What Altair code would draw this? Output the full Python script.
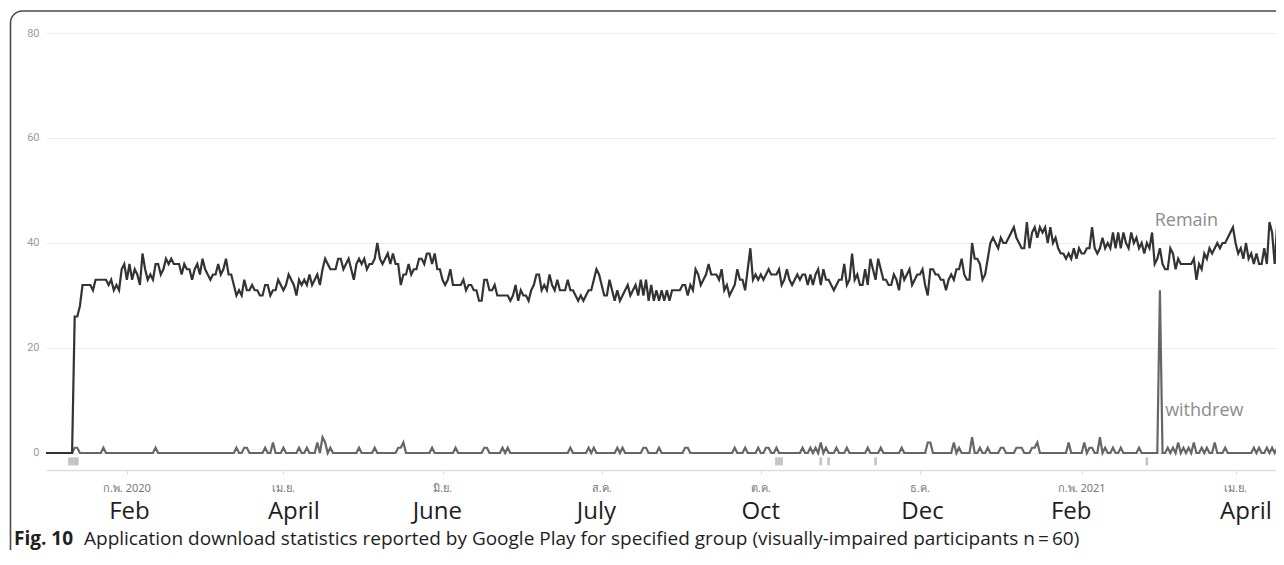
import altair as alt
import pandas as pd

# ---------------- data ----------------
# "Remain" daily values, from 2020-01-01 onward
remain_jan_apr_2020 = [
    0, 0, 0, 0, 0, 0, 0, 0, 0, 0, 0,
    26, 26, 28, 32, 32, 32, 32, 31, 33, 33, 33, 33, 33, 32, 33, 31, 32, 31,
    35, 36, 33, 36, 33, 35, 34, 32, 38, 35, 33, 34, 33, 36, 36, 34, 35, 37, 36, 37,
    36, 36, 36, 34, 36, 35, 35, 33, 35, 36, 34, 37, 35, 34, 33, 34, 34, 36, 34, 35,
    37, 34, 34, 32, 30, 31, 30, 33, 31, 31, 32, 31, 31, 30, 30, 32, 32, 30, 31, 31,
    33, 32, 31, 32, 34, 33, 32, 30, 33, 32, 33, 32, 34, 32, 33, 34, 32, 35, 37, 36,
    35, 35, 35, 37, 37, 35, 36, 37, 35, 33, 36, 37,
]
remain_may_aug_2020 = [
    36, 37, 35, 36, 36, 37, 40,
    37, 36, 37, 38, 36, 38, 36, 36, 32, 34,
    34, 36, 34, 35, 35, 37, 37, 36, 38, 38,
    36, 38, 35, 35, 33, 32, 33, 35, 32, 32, 32,
    32, 33, 31, 32, 32, 31, 31, 29, 29, 33,
    33, 31, 31, 32, 30, 30, 30, 30, 30, 29, 30,
    32, 29, 31, 30, 30, 29, 31, 32, 34, 34,
    31, 32, 31, 34, 32, 31, 33, 31, 31, 31, 33,
    31, 31, 30, 29, 30, 29, 30, 31, 31, 33,
    35, 34, 32, 30, 30, 33, 31, 29, 31, 29, 30,
    31, 32, 30, 31, 32, 30, 33, 30, 33, 29,
    32, 29, 31, 29, 31, 29, 31, 29,
]
remain_aug_dec_2020 = [
    31, 31, 31, 31, 32, 32, 30,
    32, 31, 35, 34, 32, 33, 34, 36, 34, 34,
    34, 33, 35, 31, 32, 30, 31, 32, 35, 33,
    33, 31, 35, 39, 33, 34, 33, 34, 33, 34,
    35, 34, 34, 34, 35, 32, 33, 35, 33, 32,
    33, 34, 33, 34, 34, 32, 34, 32,
    34, 35, 32, 35, 33, 33, 32, 31, 32, 33,
    33, 36, 32, 33, 38, 33, 34, 32, 32, 35,
    32, 37, 35, 33, 37, 35, 33, 33, 32, 32,
    34, 33, 31, 35, 33, 34, 35, 32, 33, 34,
    34, 35, 32, 30, 35, 35, 34, 34, 33, 33,
    31, 33, 34, 33, 35, 35, 37, 34, 33,
]
remain_dec_2020_apr_2021 = [
    33, 40, 37, 37, 36, 33, 34, 37, 40, 41,
    40, 39, 41, 40, 40, 41, 42, 43, 41, 40,
    39, 39, 44, 39, 42, 43, 41, 43, 42, 43,
    40, 43, 40, 41, 39, 38, 38, 37, 38, 37,
    39, 37, 39, 38, 38, 39, 39, 43, 39, 38,
    39, 41, 39, 40, 39, 42, 39, 42, 39, 42,
    40, 39, 42, 40, 41, 39, 40, 38, 40, 39,
    42, 36, 37, 39, 36, 35, 35, 39, 38, 35,
    37, 36, 36, 36, 36, 36, 37, 33, 36, 35,
    38, 37, 39, 38, 39, 40, 39, 40, 40,
    41, 42, 43, 40, 38, 39, 37, 40, 37, 38,
    36, 38, 36, 36, 39, 36, 44, 42, 36, 44,
    42,
]
remain = remain_jan_apr_2020 + remain_may_aug_2020 + remain_aug_dec_2020 + remain_dec_2020_apr_2021

# "withdrew": days (counted from 2020-01-01) with a non-zero value; every other day reads 0
withdrew_days = [11, 12, 22, 42, 73, 76, 77, 84, 87, 91, 97, 100, 104, 106, 107, 109, 120, 126,
                 135, 136, 137, 148, 157, 168, 169, 175, 177, 201, 208, 210, 219, 221, 229, 230,
                 235, 245, 246, 264, 268, 273, 276, 277, 280, 290, 293, 295, 297, 299, 303, 307,
                 315, 320, 328, 338, 339, 348, 350, 355, 358, 361, 366, 367, 372, 373, 374, 378,
                 379, 380, 392, 398, 400, 401, 404, 406, 409, 412, 419, 427, 430, 432, 434, 436,
                 438, 440, 443, 445, 448, 452, 463, 465, 468, 470, 472]
withdrew_counts = [1, 1, 1, 1, 1, 1, 1, 1, 2, 1, 1, 1, 2, 3, 2, 1, 1, 1,
                   1, 1, 2, 1, 1, 1, 1, 1, 1, 1, 1, 1, 1, 1, 1, 1,
                   1, 1, 1, 1, 1, 1, 1, 1, 1, 1, 1, 1, 2, 1, 1, 1,
                   1, 1, 1, 2, 2, 2, 1, 3, 1, 1, 1, 1, 1, 1, 1, 1,
                   1, 2, 2, 2, 1, 1, 3, 1, 1, 1, 1, 31, 1, 1, 2, 1,
                   1, 2, 1, 1, 2, 1, 1, 1, 1, 1, 1]

# grey event markers under the zero line (days from 2020-01-01)
event_days = [9, 10, 11, 12, 280, 281, 282, 297, 300, 318, 422]

tick_dates = ["2020-02-01", "2020-04-01", "2020-06-01", "2020-08-01",
              "2020-10-01", "2020-12-01", "2021-02-01", "2021-04-01"]
thai_labels = ["ก.พ. 2020", "เม.ย.", "มิ.ย.", "ส.ค.", "ต.ค.", "ธ.ค.", "ก.พ. 2021", "เม.ย."]
en_label_dates = ["2020-02-02", "2020-04-05", "2020-05-30", "2020-07-30",
                  "2020-10-01", "2020-12-02", "2021-01-28", "2021-04-05"]
en_labels = ["Feb", "April", "June", "July", "Oct", "Dec", "Feb", "April"]

annot_labels = ["Remain", "withdrew"]
annot_dates = ["2021-03-01", "2021-03-05"]
annot_values = [43.2, 7.0]

caption_bold = "Fig. 10"
caption_text = ("Application download statistics reported by Google Play for specified group "
                "(visually-impaired participants n\u2009=\u200960)")

# ---------------- tables ----------------
start = pd.Timestamp("2020-01-01")
n = len(remain)
day_dates = [(start + pd.Timedelta(days=i)).strftime("%Y-%m-%d") for i in range(n)]
withdrew = [0] * n
for d, v in zip(withdrew_days, withdrew_counts):
    withdrew[d] = v

df_remain = pd.DataFrame({"date": day_dates, "value": remain})
df_withdrew = pd.DataFrame({"date": day_dates, "value": withdrew})
df_events = pd.DataFrame({"date": [(start + pd.Timedelta(days=d)).strftime("%Y-%m-%d") for d in event_days]})
df_thai = pd.DataFrame({"date": tick_dates, "label": thai_labels})
df_en = pd.DataFrame({"date": en_label_dates, "label": en_labels})
df_annot = pd.DataFrame({"date": annot_dates, "value": annot_values, "label": annot_labels})
df_one = pd.DataFrame({"k": [0]})

# ---------------- chart ----------------
W, H = 1230, 437
xscale = alt.Scale(type="utc", domain=[alt.DateTime(year=2020, month=1, date=1, utc=True),
                                       alt.DateTime(year=2021, month=4, date=16, hours=12, utc=True)])
yscale = alt.Scale(domain=[-3.24, 80], nice=False, zero=False)

xaxis = alt.Axis(values=[alt.DateTime(year=int(s[:4]), month=int(s[5:7]), date=1, utc=True) for s in tick_dates],
                 labels=False, grid=False, title=None, tickColor="#dddddd", tickSize=4,
                 domainColor="#dddddd", domainWidth=1.5)
yaxis = alt.Axis(values=[0, 20, 40, 60, 80], title=None, grid=True, gridColor="#ececec",
                 domain=False, ticks=False, labelColor="#9a9a9a", labelFont="Roboto",
                 labelFontSize=11, labelPadding=7)

X = alt.X("date:T", scale=xscale, axis=xaxis)
Y = alt.Y("value:Q", scale=yscale, axis=yaxis)

frame = alt.Chart(df_one).mark_rect(fillOpacity=0, stroke="#4a4a4a", strokeWidth=1.6,
                                    cornerRadius=12).encode(
    x=alt.value(-35.5), x2=alt.value(W + 60), y=alt.value(-22), y2=alt.value(H + 120))

withdrew_line = alt.Chart(df_withdrew).mark_line(color="#666666", strokeWidth=2.2).encode(x=X, y=Y)

remain_line = alt.Chart(df_remain).mark_line(color="#333333", strokeWidth=2.2).encode(x=X, y=Y)

events = alt.Chart(df_events).mark_tick(color="#a8a8a8", thickness=2.6, size=8,
                                        orient="vertical").encode(x=X, y=alt.datum(-1.6))

annots = alt.Chart(df_annot).mark_text(font="Open Sans", fontSize=18, color="#8c8c8c",
                                       align="left", baseline="alphabetic").encode(
    x=X, y=Y, text="label:N")

thai = alt.Chart(df_thai).mark_text(font="Noto Sans", fontSize=11, color="#777777",
                                    align="center", baseline="alphabetic").encode(
    x=X, y=alt.value(459), text="label:N")

english = alt.Chart(df_en).mark_text(font="Open Sans", fontSize=24, color="#1e1e1e",
                                     align="center", baseline="alphabetic").encode(
    x=X, y=alt.value(486), text="label:N")

cap1 = alt.Chart(df_one).mark_text(font="Open Sans", fontSize=19, fontWeight="bold",
                                   color="#1e1e1e", align="left", baseline="alphabetic",
                                   text=caption_bold).encode(x=alt.value(-32), y=alt.value(512))
cap2 = alt.Chart(df_one).mark_text(font="Open Sans", fontSize=19, color="#1e1e1e",
                                   align="left", baseline="alphabetic",
                                   text=caption_text).encode(x=alt.value(38), y=alt.value(512))

chart = alt.layer(frame, withdrew_line, remain_line, events, annots, thai, english, cap1, cap2).properties(
    width=W, height=H,
    autosize=alt.AutoSizeParams(type="none"),
    padding={"left": 38, "top": 25, "right": 0, "bottom": 80},
    background="white",
).configure_view(stroke=None)

chart.save("out.html", embed_options={"renderer": "svg", "actions": False})
